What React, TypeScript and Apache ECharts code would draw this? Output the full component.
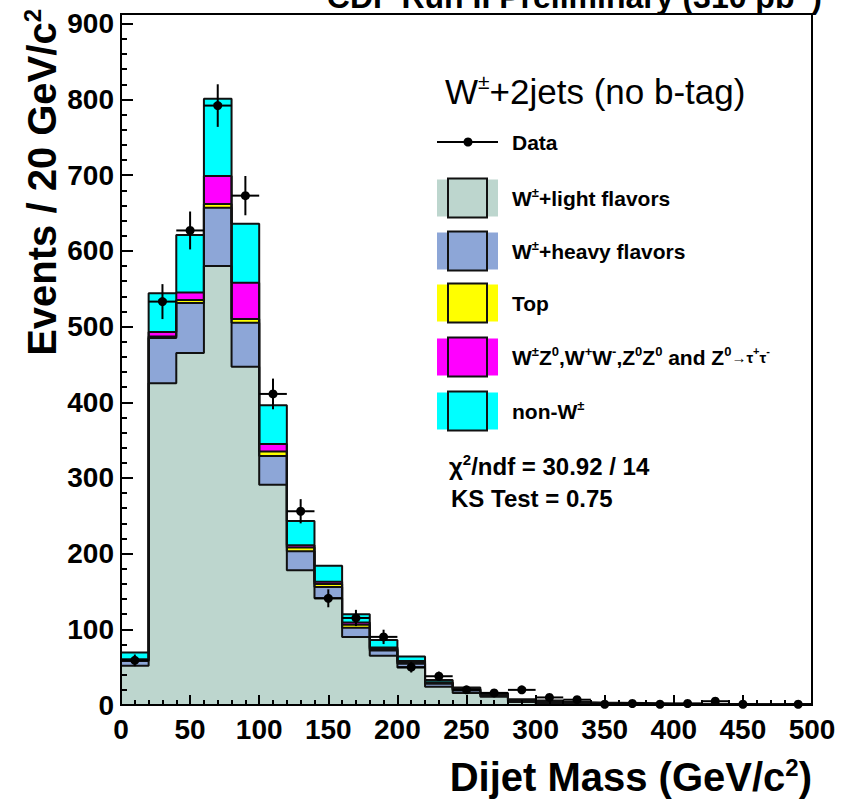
import React, { useEffect, useRef } from 'react';
import * as echarts from 'echarts';

// ---- data ----
const binLow = [0, 20, 40, 60, 80, 100, 120, 140, 160, 180, 200, 220, 240, 260, 280, 300, 320, 340, 360, 380, 400, 420, 440, 460, 480];
const binWidth = 20;
const wLight = [52, 425, 465, 580, 447, 291, 178, 141, 90, 65, 49.5, 24, 16, 11, 4, 2, 1.5, 1, 0.8, 0.6, 0.5, 0.4, 0.3, 0.3, 0.25];
const wHeavy = [6, 60, 66, 77, 58, 38, 25, 15, 12, 7, 5, 4, 3, 2, 1, 1, 0.8, 0.6, 0.5, 0.4, 0.3, 0.25, 0.2, 0.15, 0.15];
const topQuark = [1, 2, 4, 5, 5, 6, 5, 4, 4, 2, 2, 1, 1.5, 1, 1, 1.2, 0.7, 0.6, 0.5, 0.4, 0.3, 0.25, 0.2, 0.15, 0.15];
const diboson = [1.5, 6, 10, 37, 48, 10, 3, 3, 3, 2, 1.5, 1, 0.5, 0.5, 0.3, 0.3, 0.2, 0.2, 0.1, 0.1, 0.1, 0.1, 0.1, 0.05, 0.05];
const nonW = [9, 51, 76, 102, 78, 51, 32, 21, 11, 10, 6, 3, 2, 1.5, 1.2, 1.5, 0.8, 0.6, 0.6, 0.5, 0.4, 0.3, 0.3, 0.25, 0.2];
const dataCounts = [59, 533, 627, 792, 673, 411, 256, 141, 115, 90, 50, 38, 20, 16, 20, 10, 7, 1, 2, 1, 2, 5, 1, 0, 1];

const components = [
  { name: 'W±+light flavors', values: wLight, color: '#bdd6ce' },
  { name: 'W±+heavy flavors', values: wHeavy, color: '#8da6d7' },
  { name: 'Top', values: topQuark, color: '#ffff00' },
  { name: 'Diboson', values: diboson, color: '#ff00ff' },
  { name: 'non-W±', values: nonW, color: '#00ffff' },
];

const legendLabels = [
  '{n|W}{s|±}{n|+light flavors}',
  '{n|W}{s|±}{n|+heavy flavors}',
  '{n|Top}',
  '{n|W}{s|±}{n|Z}{s|0}{n|,W}{s|+}{n|W}{s|-}{n|,Z}{s|0}{n|Z}{s|0}{n| and Z}{s|0}{m|→τ}{t|+}{m|τ}{t|-}',
  '{n|non-W}{s|±}',
];

const FONT = '"Liberation Sans", Arial, Helvetica, sans-serif';

function buildOption() {
  // cumulative stacks
  const cum: number[][] = [];
  components.forEach((c, k) => {
    cum.push(c.values.map((v, i) => v + (k > 0 ? cum[k - 1][i] : 0)));
  });
  const last = binLow.length - 1;
  const stepData = (arr: number[]) => {
    const pts: number[][] = [[binLow[0], 0]];
    binLow.forEach((e, i) => pts.push([e, arr[i]]));
    pts.push([binLow[last] + binWidth, arr[last]]);
    pts.push([binLow[last] + binWidth, 0]);
    return pts;
  };
  const stackSeries: any[] = [];
  for (let k = components.length - 1; k >= 0; k--) {
    stackSeries.push({
      type: 'line',
      name: components[k].name,
      step: 'end',
      data: stepData(cum[k]),
      showSymbol: false,
      symbol: 'none',
      lineStyle: { color: '#111', width: 2 },
      areaStyle: { color: components[k].color, opacity: 1 },
      z: 2,
      silent: true,
    });
  }

  const dataSeries = {
    type: 'custom',
    name: 'Data',
    data: binLow.map((e, i) => [e + binWidth / 2, dataCounts[i]]),
    z: 5,
    renderItem: (params: any, api: any) => {
      const x = api.value(0);
      const y = api.value(1);
      if (!(y > 0)) return null;
      const err = Math.sqrt(y);
      const c = api.coord([x, y]);
      const lo = api.coord([x, Math.max(0, y - err)]);
      const hi = api.coord([x, y + err]);
      const l = api.coord([x - binWidth / 2, y]);
      const r = api.coord([x + binWidth / 2, y]);
      return {
        type: 'group',
        children: [
          { type: 'line', shape: { x1: c[0], y1: lo[1], x2: c[0], y2: hi[1] }, style: { stroke: '#000', lineWidth: 2 } },
          { type: 'line', shape: { x1: l[0], y1: c[1], x2: r[0], y2: c[1] }, style: { stroke: '#000', lineWidth: 2 } },
          { type: 'circle', shape: { cx: c[0], cy: c[1], r: 4.5 }, style: { fill: '#000' } },
        ],
      };
    },
  };

  // legend graphics
  const legendY = [198, 251, 303, 357, 411];
  const legendGraphics: any[] = [];
  legendGraphics.push({ type: 'line', shape: { x1: 437, y1: 142, x2: 498, y2: 142 }, style: { stroke: '#000', lineWidth: 2 } });
  legendGraphics.push({ type: 'circle', shape: { cx: 468, cy: 142, r: 4.5 }, style: { fill: '#000' } });
  legendGraphics.push({
    type: 'text', x: 512, y: 142,
    style: { text: 'Data', font: `bold 21px ${FONT}`, fill: '#000', verticalAlign: 'middle', align: 'left' },
  });
  const rich = {
    n: { fontSize: 21, fontWeight: 'bold', fontFamily: FONT, fill: '#000', lineHeight: 24 },
    s: { fontSize: 13, fontWeight: 'bold', fontFamily: FONT, fill: '#000', lineHeight: 15, verticalAlign: 'top' },
    m: { fontSize: 15, fontWeight: 'bold', fontFamily: FONT, fill: '#000', lineHeight: 16 },
    t: { fontSize: 11, fontWeight: 'bold', fontFamily: FONT, fill: '#000', lineHeight: 18, verticalAlign: 'top' },
  };
  components.forEach((c, k) => {
    const cy = legendY[k];
    legendGraphics.push({ type: 'rect', shape: { x: 437, y: cy - 18.5, width: 61, height: 37 }, style: { fill: c.color } });
    legendGraphics.push({ type: 'rect', shape: { x: 448, y: cy - 19.5, width: 39, height: 39 }, style: { fill: c.color, stroke: '#111', lineWidth: 2 } });
    legendGraphics.push({
      type: 'text', x: 512, y: cy,
      style: { text: legendLabels[k], rich, verticalAlign: 'middle', align: 'left', fill: '#000' },
    });
  });

  const graphic: any[] = [
    // header (partly cut off at the top of the picture, as in the reference)
    {
      type: 'text', x: 822, y: -21, z: 20,
      style: {
        text: '{n|CDF Run II Preliminary (310 pb}{s|-1}{n|)}', align: 'right', verticalAlign: 'top',
        rich: {
          n: { fontSize: 32, fontWeight: 'bold', fontFamily: FONT, fill: '#000', lineHeight: 36 },
          s: { fontSize: 19, fontWeight: 'bold', fontFamily: FONT, fill: '#000', lineHeight: 20, verticalAlign: 'top' },
        },
      },
    },
    // legend title
    {
      type: 'text', x: 445, y: 91,
      style: {
        text: '{n|W}{s|±}{n|+2jets (no b-tag)}', verticalAlign: 'middle', align: 'left',
        rich: {
          n: { fontSize: 35, fontFamily: FONT, fill: '#000', lineHeight: 40 },
          s: { fontSize: 21, fontFamily: FONT, fill: '#000', lineHeight: 24, verticalAlign: 'top' },
        },
      },
    },
    ...legendGraphics,
    {
      type: 'text', x: 449, y: 466,
      style: {
        text: '{n|χ}{s|2}{n|/ndf = 30.92 / 14}', verticalAlign: 'middle', align: 'left',
        rich: {
          n: { fontSize: 24, fontWeight: 'bold', fontFamily: FONT, fill: '#000', lineHeight: 28 },
          s: { fontSize: 15, fontWeight: 'bold', fontFamily: FONT, fill: '#000', lineHeight: 16, verticalAlign: 'top' },
        },
      },
    },
    {
      type: 'text', x: 451, y: 498,
      style: { text: 'KS Test = 0.75', font: `bold 24px ${FONT}`, fill: '#000', verticalAlign: 'middle', align: 'left' },
    },
    // axis titles
    {
      type: 'text', x: 812, y: 777,
      style: {
        text: '{n|Dijet Mass (GeV/c}{s|2}{n|)}', verticalAlign: 'middle', align: 'right',
        rich: {
          n: { fontSize: 40, fontWeight: 'bold', fontFamily: FONT, fill: '#000', lineHeight: 44 },
          s: { fontSize: 24, fontWeight: 'bold', fontFamily: FONT, fill: '#000', lineHeight: 26, verticalAlign: 'top' },
        },
      },
    },
    {
      type: 'text', x: 42, y: 9, rotation: Math.PI / 2,
      style: {
        text: '{n|Events / 20 GeV/c}{s|2}', verticalAlign: 'middle', align: 'right',
        rich: {
          n: { fontSize: 40, fontWeight: 'bold', fontFamily: FONT, fill: '#000', lineHeight: 44 },
          s: { fontSize: 24, fontWeight: 'bold', fontFamily: FONT, fill: '#000', lineHeight: 26, verticalAlign: 'top' },
        },
      },
    },
  ];

  const labelStyle = { fontSize: 28, fontWeight: 'bold', fontFamily: FONT, color: '#000' };

  return {
    animation: false,
    backgroundColor: '#fff',
    grid: { left: 121, right: 30, top: 14, bottom: 96, show: true, borderColor: '#000', borderWidth: 2, backgroundColor: 'transparent' },
    xAxis: {
      type: 'value', min: 0, max: 500, interval: 50, z: 10,
      axisLine: { show: true, onZero: false, lineStyle: { color: '#000', width: 2 } },
      axisTick: { show: true, inside: true, length: 10, lineStyle: { color: '#000', width: 2 } },
      minorTick: { show: true, splitNumber: 5, length: 5, lineStyle: { color: '#000', width: 2 } },
      axisLabel: { ...labelStyle, margin: 10, showMinLabel: true, showMaxLabel: true },
      splitLine: { show: false },
    },
    yAxis: [
      {
        type: 'value', min: 0, max: 913, interval: 100, position: 'left', z: 10,
        axisLine: { show: true, onZero: false, lineStyle: { color: '#000', width: 2 } },
        axisTick: { show: true, inside: true, length: 12, lineStyle: { color: '#000', width: 2 } },
        axisLabel: { ...labelStyle, margin: 7, formatter: (v: number) => (v % 100 === 0 ? String(v) : '') },
        splitLine: { show: false },
      },
      {
        type: 'value', min: 0, max: 913, interval: 20, position: 'left', z: 10,
        axisLine: { show: false },
        axisTick: { show: true, inside: true, length: 6, lineStyle: { color: '#000', width: 2 } },
        axisLabel: { show: false },
        splitLine: { show: false },
      },
    ],
    series: [...stackSeries, dataSeries],
    graphic,
  };
}

export default function App() {
  const ref = useRef<HTMLDivElement>(null);
  useEffect(() => {
    if (!ref.current) return;
    const chart = echarts.init(ref.current, undefined, { renderer: 'svg' });
    chart.setOption(buildOption() as any);
    return () => chart.dispose();
  }, []);
  return <div ref={ref} style={{ position: 'absolute', left: 0, top: 0, width: 842, height: 801 }} />;
}
